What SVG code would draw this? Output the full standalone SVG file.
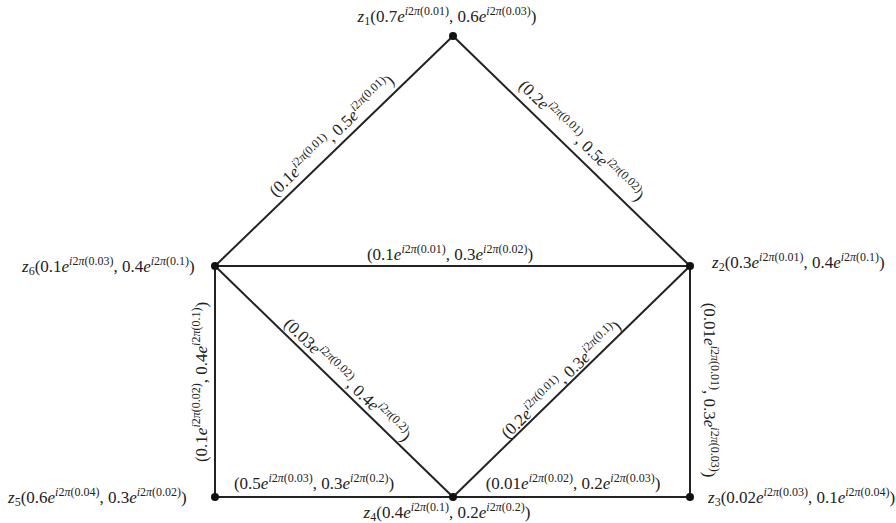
<svg xmlns="http://www.w3.org/2000/svg" width="896" height="523" viewBox="0 0 896 523">
<style>
.lb{font-family:"Liberation Serif","DejaVu Serif",serif;font-size:17px;fill:#222}
.it{font-style:italic}
.sp{font-size:12px}
.sb{font-size:12px}
.e{stroke:#222;stroke-width:2;fill:none}
.d{fill:#111}
</style>
<rect width="896" height="523" fill="#fff"/>
<g id="connectors">
<line class="e" x1="453" y1="36" x2="215" y2="266"/>
<line class="e" x1="453" y1="36" x2="690" y2="266"/>
<line class="e" x1="215" y1="266" x2="690" y2="266"/>
<line class="e" x1="215" y1="266" x2="215" y2="497"/>
<line class="e" x1="215" y1="266" x2="453" y2="497"/>
<line class="e" x1="690" y1="266" x2="453" y2="497"/>
<line class="e" x1="690" y1="266" x2="690" y2="497"/>
<line class="e" x1="215" y1="497" x2="690" y2="497"/>
<text class="lb" text-anchor="middle" transform="translate(335.5,139.7) rotate(-44)"><tspan>(0.1</tspan><tspan class="it">e</tspan><tspan class="sp" dy="-7"><tspan class="it">i</tspan>2<tspan class="it">π</tspan>(0.01)</tspan><tspan dy="7">, 0.5</tspan><tspan class="it">e</tspan><tspan class="sp" dy="-7"><tspan class="it">i</tspan>2<tspan class="it">π</tspan>(0.01)</tspan><tspan dy="7">)</tspan></text>
<text class="lb" text-anchor="middle" transform="translate(577.5,144.6) rotate(44)"><tspan>(0.2</tspan><tspan class="it">e</tspan><tspan class="sp" dy="-7"><tspan class="it">i</tspan>2<tspan class="it">π</tspan>(0.01)</tspan><tspan dy="7">, 0.5</tspan><tspan class="it">e</tspan><tspan class="sp" dy="-7"><tspan class="it">i</tspan>2<tspan class="it">π</tspan>(0.02)</tspan><tspan dy="7">)</tspan></text>
<text class="lb" text-anchor="middle" x="450" y="260"><tspan>(0.1</tspan><tspan class="it">e</tspan><tspan class="sp" dy="-7"><tspan class="it">i</tspan>2<tspan class="it">π</tspan>(0.01)</tspan><tspan dy="7">, 0.3</tspan><tspan class="it">e</tspan><tspan class="sp" dy="-7"><tspan class="it">i</tspan>2<tspan class="it">π</tspan>(0.02)</tspan><tspan dy="7">)</tspan></text>
<text class="lb" text-anchor="middle" transform="translate(207,382) rotate(-90)"><tspan>(0.1</tspan><tspan class="it">e</tspan><tspan class="sp" dy="-7"><tspan class="it">i</tspan>2<tspan class="it">π</tspan>(0.02)</tspan><tspan dy="7">, 0.4</tspan><tspan class="it">e</tspan><tspan class="sp" dy="-7"><tspan class="it">i</tspan>2<tspan class="it">π</tspan>(0.1)</tspan><tspan dy="7">)</tspan></text>
<text class="lb" text-anchor="middle" transform="translate(343.5,383.7) rotate(44.1)"><tspan>(0.03</tspan><tspan class="it">e</tspan><tspan class="sp" dy="-7"><tspan class="it">i</tspan>2<tspan class="it">π</tspan>(0.02)</tspan><tspan dy="7">, 0.4</tspan><tspan class="it">e</tspan><tspan class="sp" dy="-7"><tspan class="it">i</tspan>2<tspan class="it">π</tspan>(0.2)</tspan><tspan dy="7">)</tspan></text>
<text class="lb" text-anchor="middle" transform="translate(565.1,383.6) rotate(-44.3)"><tspan>(0.2</tspan><tspan class="it">e</tspan><tspan class="sp" dy="-7"><tspan class="it">i</tspan>2<tspan class="it">π</tspan>(0.01)</tspan><tspan dy="7">, 0.3</tspan><tspan class="it">e</tspan><tspan class="sp" dy="-7"><tspan class="it">i</tspan>2<tspan class="it">π</tspan>(0.1)</tspan><tspan dy="7">)</tspan></text>
<text class="lb" text-anchor="middle" transform="translate(704,390) rotate(90)"><tspan>(0.01</tspan><tspan class="it">e</tspan><tspan class="sp" dy="-7"><tspan class="it">i</tspan>2<tspan class="it">π</tspan>(0.01)</tspan><tspan dy="7">, 0.3</tspan><tspan class="it">e</tspan><tspan class="sp" dy="-7"><tspan class="it">i</tspan>2<tspan class="it">π</tspan>(0.03)</tspan><tspan dy="7">)</tspan></text>
<text class="lb" text-anchor="middle" x="314" y="489"><tspan>(0.5</tspan><tspan class="it">e</tspan><tspan class="sp" dy="-7"><tspan class="it">i</tspan>2<tspan class="it">π</tspan>(0.03)</tspan><tspan dy="7">, 0.3</tspan><tspan class="it">e</tspan><tspan class="sp" dy="-7"><tspan class="it">i</tspan>2<tspan class="it">π</tspan>(0.2)</tspan><tspan dy="7">)</tspan></text>
<text class="lb" text-anchor="middle" x="573" y="489"><tspan>(0.01</tspan><tspan class="it">e</tspan><tspan class="sp" dy="-7"><tspan class="it">i</tspan>2<tspan class="it">π</tspan>(0.02)</tspan><tspan dy="7">, 0.2</tspan><tspan class="it">e</tspan><tspan class="sp" dy="-7"><tspan class="it">i</tspan>2<tspan class="it">π</tspan>(0.03)</tspan><tspan dy="7">)</tspan></text>
</g>
<g id="z1"><circle class="d" cx="453" cy="36" r="4"/>
<text class="lb" text-anchor="middle" x="447" y="22"><tspan class="it">z</tspan><tspan class="sb" dy="3">1</tspan><tspan dy="-3">(0.7</tspan><tspan class="it">e</tspan><tspan class="sp" dy="-7"><tspan class="it">i</tspan>2<tspan class="it">π</tspan>(0.01)</tspan><tspan dy="7">, 0.6</tspan><tspan class="it">e</tspan><tspan class="sp" dy="-7"><tspan class="it">i</tspan>2<tspan class="it">π</tspan>(0.03)</tspan><tspan dy="7">)</tspan></text></g>
<g id="z2"><circle class="d" cx="690" cy="266" r="4"/>
<text class="lb" x="712" y="268"><tspan class="it">z</tspan><tspan class="sb" dy="3">2</tspan><tspan dy="-3">(0.3</tspan><tspan class="it">e</tspan><tspan class="sp" dy="-7"><tspan class="it">i</tspan>2<tspan class="it">π</tspan>(0.01)</tspan><tspan dy="7">, 0.4</tspan><tspan class="it">e</tspan><tspan class="sp" dy="-7"><tspan class="it">i</tspan>2<tspan class="it">π</tspan>(0.1)</tspan><tspan dy="7">)</tspan></text></g>
<g id="z3"><circle class="d" cx="690" cy="497" r="4"/>
<text class="lb" x="708" y="503"><tspan class="it">z</tspan><tspan class="sb" dy="3">3</tspan><tspan dy="-3">(0.02</tspan><tspan class="it">e</tspan><tspan class="sp" dy="-7"><tspan class="it">i</tspan>2<tspan class="it">π</tspan>(0.03)</tspan><tspan dy="7">, 0.1</tspan><tspan class="it">e</tspan><tspan class="sp" dy="-7"><tspan class="it">i</tspan>2<tspan class="it">π</tspan>(0.04)</tspan><tspan dy="7">)</tspan></text></g>
<g id="z4"><circle class="d" cx="453" cy="497" r="4"/>
<text class="lb" text-anchor="middle" x="447" y="518"><tspan class="it">z</tspan><tspan class="sb" dy="3">4</tspan><tspan dy="-3">(0.4</tspan><tspan class="it">e</tspan><tspan class="sp" dy="-7"><tspan class="it">i</tspan>2<tspan class="it">π</tspan>(0.1)</tspan><tspan dy="7">, 0.2</tspan><tspan class="it">e</tspan><tspan class="sp" dy="-7"><tspan class="it">i</tspan>2<tspan class="it">π</tspan>(0.2)</tspan><tspan dy="7">)</tspan></text></g>
<g id="z5"><circle class="d" cx="215" cy="497" r="4"/>
<text class="lb" x="8" y="503"><tspan class="it">z</tspan><tspan class="sb" dy="3">5</tspan><tspan dy="-3">(0.6</tspan><tspan class="it">e</tspan><tspan class="sp" dy="-7"><tspan class="it">i</tspan>2<tspan class="it">π</tspan>(0.04)</tspan><tspan dy="7">, 0.3</tspan><tspan class="it">e</tspan><tspan class="sp" dy="-7"><tspan class="it">i</tspan>2<tspan class="it">π</tspan>(0.02)</tspan><tspan dy="7">)</tspan></text></g>
<g id="z6"><circle class="d" cx="215" cy="266" r="4"/>
<text class="lb" x="22" y="272"><tspan class="it">z</tspan><tspan class="sb" dy="3">6</tspan><tspan dy="-3">(0.1</tspan><tspan class="it">e</tspan><tspan class="sp" dy="-7"><tspan class="it">i</tspan>2<tspan class="it">π</tspan>(0.03)</tspan><tspan dy="7">, 0.4</tspan><tspan class="it">e</tspan><tspan class="sp" dy="-7"><tspan class="it">i</tspan>2<tspan class="it">π</tspan>(0.1)</tspan><tspan dy="7">)</tspan></text></g>
</svg>
